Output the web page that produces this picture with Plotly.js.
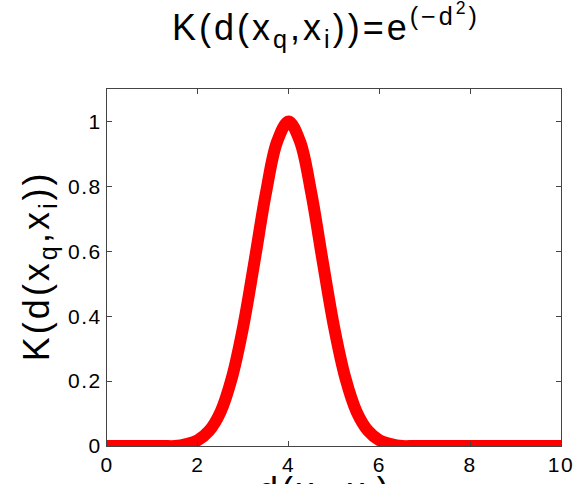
<!DOCTYPE html>
<html>
<head>
<meta charset="utf-8">
<script src="https://cdn.plot.ly/plotly-3.0.1.min.js"></script>
<style>
  html, body { margin: 0; padding: 0; background: #fff; }
  #chart { width: 577px; height: 484px; }
  /* wide, loosely spaced lettering for the titles and tick labels */
  #chart .gtitle, #chart .annotation-text { letter-spacing: 3px; }
  #chart .xtick text, #chart .ytick text { letter-spacing: 1.5px; }
</style>
</head>
<body>
<div id="chart"></div>
<script>
// Kernel weight K as a function of position, peaking at x = 4
const xValues = [0, 0.25, 0.5, 0.75, 1, 1.25, 1.5, 1.75, 2, 2.25, 2.5, 2.75, 3, 3.25, 3.5, 3.75, 4,
                 4.25, 4.5, 4.75, 5, 5.25, 5.5, 5.75, 6, 6.25, 6.5, 6.75, 7, 7.25, 7.5, 7.75, 8,
                 8.25, 8.5, 8.75, 9, 9.25, 9.5, 9.75, 10];
const kValues = [0, 0, 0, 0, 0, 0, 0, 0.006, 0.018, 0.047, 0.105, 0.21, 0.368, 0.57, 0.779, 0.939, 1,
                 0.939, 0.779, 0.57, 0.368, 0.21, 0.105, 0.047, 0.018, 0.006, 0, 0, 0, 0, 0, 0, 0,
                 0, 0, 0, 0, 0, 0, 0, 0];

const xTicks = [0, 2, 4, 6, 8, 10];
const yTicks = [0, 0.2, 0.4, 0.6, 0.8, 1];
const yTickText = ['0', '0.2', '0.4', '0.6', '0.8', '1'];

const titleText = 'K(d(x<sub>q</sub>,x<sub>i</sub>))=e<sup>(\u2212d<sup>2</sup>)</sup>';
const xTitleText = 'd(x<sub>q</sub>,x<sub>i</sub>)';
const yTitleText = 'K(d(x<sub>q</sub>,x<sub>i</sub>))';

const font = 'Liberation Sans, Arial, Helvetica, sans-serif';
const axisColor = '#444';

const trace = {
  x: xValues,
  y: kValues,
  type: 'scatter',
  mode: 'lines',
  line: { color: '#ff0000', width: 12, shape: 'spline', smoothing: 1 },
  hoverinfo: 'skip'
};

const axisCommon = {
  showgrid: false,
  zeroline: false,
  showline: true,
  linecolor: axisColor,
  linewidth: 1,
  mirror: 'ticks',
  ticks: 'inside',
  ticklen: 5,
  tickcolor: axisColor,
  tickfont: { family: font, size: 21, color: '#000' }
};

const bigFont = { family: font, size: 36, color: '#000' };

const layout = {
  width: 577,
  height: 484,
  paper_bgcolor: '#fff',
  plot_bgcolor: '#fff',
  showlegend: false,
  margin: { l: 107, r: 16, t: 89, b: 38 },
  title: {
    text: titleText,
    font: bigFont,
    x: 326 / 577,
    xref: 'container',
    xanchor: 'center',
    y: 1 - 40 / 484,
    yref: 'container',
    yanchor: 'bottom'
  },
  xaxis: Object.assign({}, axisCommon, {
    range: [0, 10],
    tickvals: xTicks,
    ticktext: xTicks.map(String)
  }),
  yaxis: Object.assign({}, axisCommon, {
    range: [0, 1.1],
    tickvals: yTicks,
    ticktext: yTickText
  }),
  // axis titles sit tight against the tick labels, as plain annotations
  annotations: [
    {
      text: xTitleText,
      font: bigFont,
      xref: 'paper', yref: 'paper',
      x: 0.48, y: -0.062,
      xanchor: 'center', yanchor: 'top',
      showarrow: false
    },
    {
      text: yTitleText,
      font: bigFont,
      textangle: -90,
      xref: 'paper', yref: 'paper',
      x: -0.205, y: 0.505,
      xanchor: 'left', yanchor: 'middle',
      showarrow: false
    }
  ]
};

Plotly.newPlot('chart', [trace], layout, { displayModeBar: false, staticPlot: true });
</script>
</body>
</html>
